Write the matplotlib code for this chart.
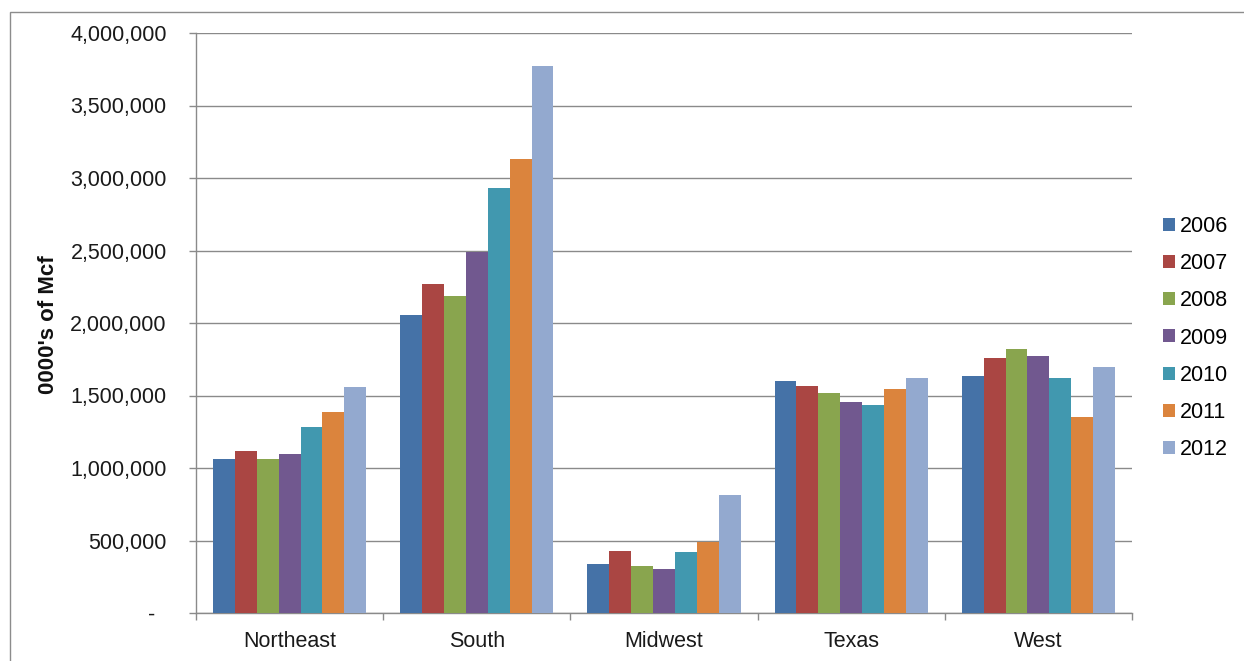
import matplotlib

matplotlib.use("Agg")
import matplotlib.pyplot as plt
import numpy as np
from matplotlib.patches import Rectangle
from matplotlib.ticker import FuncFormatter, MultipleLocator

plt.rcParams["font.family"] = ["Liberation Sans", "DejaVu Sans"]

regions = ["Northeast", "South", "Midwest", "Texas", "West"]
years = ["2006", "2007", "2008", "2009", "2010", "2011", "2012"]

# consumption per region, one list per year (0000's of Mcf)
v2006 = [1063000, 2054000, 338000, 1602000, 1635000]
v2007 = [1118000, 2269000, 431000, 1568000, 1762000]
v2008 = [1063000, 2184000, 325000, 1518000, 1824000]
v2009 = [1097000, 2493000, 304000, 1454000, 1770000]
v2010 = [1285000, 2930000, 423000, 1433000, 1621000]
v2011 = [1383000, 3128000, 489000, 1547000, 1350000]
v2012 = [1560000, 3773000, 812000, 1621000, 1697000]
series = [v2006, v2007, v2008, v2009, v2010, v2011, v2012]

colors = ["#4572A7", "#AA4643", "#89A54E", "#71588F", "#4198AF", "#DB843D", "#93A9CF"]

W, H = 1244, 661
fig = plt.figure(figsize=(W / 100, H / 100), dpi=100)

# outer frame (runs off the right and bottom edges)
fig.patches.append(
    Rectangle((10 / W, -0.05), 1.1, 1 - 12 / H + 0.05, transform=fig.transFigure,
              fill=False, edgecolor="#8c8c8c", linewidth=1.0)
)

ax = fig.add_axes([196 / W, (H - 613) / H, (1132 - 196) / W, 580 / H])

x = np.arange(len(regions))
bw = 0.117
for j, (vals, c, yr) in enumerate(zip(series, colors, years)):
    ax.bar(x + (j - 3) * bw, vals, width=bw, color=c, label=yr, linewidth=0, zorder=3)

ax.set_xlim(-0.5, len(regions) - 0.5)
ax.set_ylim(0, 4000000)
ax.yaxis.set_major_locator(MultipleLocator(500000))
ax.yaxis.set_major_formatter(
    FuncFormatter(lambda v, _: "-  " if v == 0 else f"{v:,.0f}")
)
ax.grid(axis="y", color="#8a8a8a", linewidth=1.0, zorder=0)

ax.set_xticks(np.arange(-0.5, len(regions)), [""] * (len(regions) + 1))
ax.set_xticks(x, regions, minor=True)
ax.tick_params(axis="x", which="major", length=5, width=1, color="#8a8a8a", direction="out")
ax.tick_params(axis="x", which="minor", length=0, pad=13, labelsize=15.5, labelcolor="#1a1a1a")
ax.tick_params(axis="y", length=5, width=1, color="#8a8a8a", pad=16, labelsize=15.5,
               labelcolor="#1a1a1a")

for side in ("top", "right"):
    ax.spines[side].set_visible(False)
for side in ("left", "bottom"):
    ax.spines[side].set_color("#8a8a8a")
    ax.spines[side].set_linewidth(1.0)

fig.text(48 / W, 1 - 325 / H, "0000's of Mcf", rotation=90, ha="center", va="center",
         fontsize=16, fontweight="bold", color="#111111")

ax.legend(loc="center left", bbox_to_anchor=(1163 / W, 1 - 338 / H),
          bbox_transform=fig.transFigure, frameon=False, fontsize=15.5,
          handlelength=0.55, handleheight=0.55, handletextpad=0.25,
          labelspacing=0.75, borderaxespad=0, borderpad=0)

fig.savefig("out.png", dpi=100)
